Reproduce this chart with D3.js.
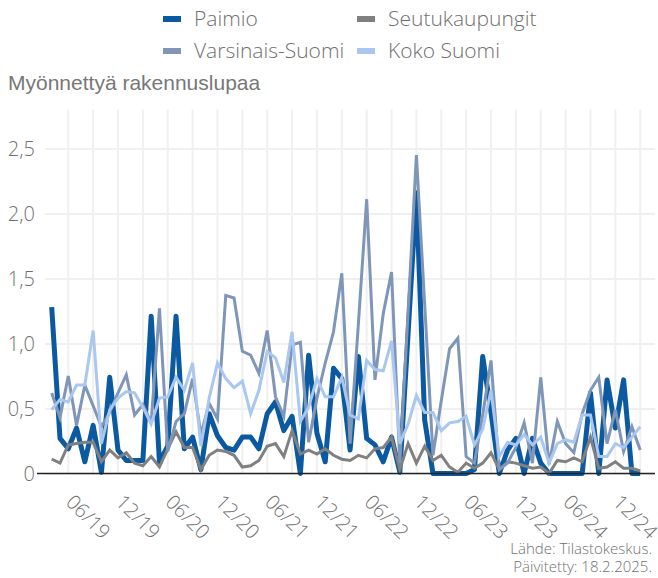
<!DOCTYPE html>
<html>
<head>
<meta charset="utf-8">
<script src="https://cdn.jsdelivr.net/npm/d3@7"></script>
<style>
    body { margin: 0; background: #fff; }
    #chart text { font-family: "Open Sans", sans-serif; font-weight: 300; fill: #707070; }
</style>
</head>
<body>
<svg id="chart" width="658" height="578"></svg>
<script>
// months 01/2019 - 12/2024
const months = [
    "01/19","02/19","03/19","04/19","05/19","06/19","07/19","08/19","09/19","10/19","11/19","12/19",
    "01/20","02/20","03/20","04/20","05/20","06/20","07/20","08/20","09/20","10/20","11/20","12/20",
    "01/21","02/21","03/21","04/21","05/21","06/21","07/21","08/21","09/21","10/21","11/21","12/21",
    "01/22","02/22","03/22","04/22","05/22","06/22","07/22","08/22","09/22","10/22","11/22","12/22",
    "01/23","02/23","03/23","04/23","05/23","06/23","07/23","08/23","09/23","10/23","11/23","12/23",
    "01/24","02/24","03/24","04/24","05/24","06/24","07/24","08/24","09/24","10/24","11/24","12/24"
];

const paimio = [
    1.28,0.27,0.19,0.35,0.09,0.37,0.01,0.74,0.18,0.10,0.10,0.10,
    1.21,0.09,0.21,1.21,0.19,0.28,0.03,0.46,0.29,0.20,0.18,0.28,
    0.28,0.19,0.46,0.55,0.33,0.44,0.00,0.91,0.31,0.09,0.81,0.73,
    0.18,0.90,0.27,0.22,0.09,0.28,0.01,1.08,2.16,0.41,0.00,0.00,
    0.00,0.00,0.00,0.03,0.90,0.47,0.00,0.18,0.27,0.00,0.27,0.08,
    0.00,0.00,0.00,0.00,0.00,0.62,0.00,0.72,0.35,0.72,0.00,0.00
];
const seutukaupungit = [
    0.11,0.08,0.22,0.23,0.24,0.24,0.09,0.18,0.12,0.16,0.08,0.06,
    0.13,0.05,0.19,0.32,0.20,0.20,0.03,0.14,0.18,0.17,0.14,0.05,
    0.06,0.10,0.21,0.23,0.13,0.33,0.15,0.18,0.15,0.19,0.14,0.11,
    0.10,0.14,0.12,0.19,0.20,0.28,0.03,0.23,0.08,0.21,0.10,0.14,
    0.05,0.01,0.08,0.04,0.08,0.16,0.03,0.09,0.08,0.06,0.04,0.05,
    0.00,0.10,0.09,0.12,0.09,0.28,0.04,0.05,0.09,0.04,0.04,0.02
];
const varsinaisSuomi = [
    0.62,0.43,0.75,0.37,0.68,0.52,0.36,0.47,0.62,0.76,0.45,0.53,
    0.39,1.27,0.17,0.40,0.46,0.73,0.30,0.54,0.42,1.37,1.35,0.94,
    0.91,0.77,1.10,0.59,0.44,0.99,1.01,0.24,0.58,0.85,1.09,1.54,
    0.23,1.15,2.11,0.72,1.23,1.55,0.08,1.25,2.45,1.30,0.14,0.56,
    0.96,1.04,0.13,0.08,0.45,0.87,0.03,0.08,0.20,0.39,0.08,0.74,
    0.07,0.40,0.23,0.16,0.46,0.64,0.74,0.23,0.49,0.17,0.36,0.18
];
const kokoSuomi = [
    0.49,0.57,0.55,0.68,0.68,1.10,0.23,0.49,0.58,0.63,0.62,0.51,
    0.38,0.58,0.59,0.74,0.64,0.85,0.21,0.58,0.85,0.73,0.66,0.71,
    0.46,0.64,0.94,0.89,0.70,1.09,0.40,0.51,0.73,0.59,0.59,0.74,
    0.45,0.42,0.87,0.80,0.79,1.02,0.23,0.38,0.60,0.47,0.47,0.33,
    0.39,0.40,0.44,0.22,0.34,0.64,0.13,0.24,0.22,0.30,0.22,0.28,
    0.08,0.23,0.26,0.24,0.45,0.45,0.13,0.13,0.23,0.20,0.28,0.36
];

const seriesNames = ["Paimio", "Seutukaupungit", "Varsinais-Suomi", "Koko Suomi"];
const yTicks = [0, 0.5, 1, 1.5, 2, 2.5];
const xTickLabels = ["06/19","12/19","06/20","12/20","06/21","12/21","06/22","12/22","06/23","12/23","06/24","12/24"];
const gridMonths = ["03/19","06/19","09/19","12/19","03/20","06/20","09/20","12/20","03/21","06/21","09/21","12/21",
    "03/22","06/22","09/22","12/22","03/23","06/23","09/23","12/23","03/24","06/24","09/24","12/24"];

const series = [
    { name: seriesNames[0], values: paimio, color: "#0b5aa1", width: 5 },
    { name: seriesNames[1], values: seutukaupungit, color: "#808080", width: 3 },
    { name: seriesNames[2], values: varsinaisSuomi, color: "#7f96b8", width: 3 },
    { name: seriesNames[3], values: kokoSuomi, color: "#a9c7ef", width: 3 }
];

const svg = d3.select("#chart");
const plotLeft = 45, plotRight = 655, plotTop = 109.5, plotBottom = 473.5;

let x = d3.scalePoint().domain(months).range([51.7, 640.2]);
let y = d3.scaleLinear().domain([0, 2.8]).range([plotBottom, plotTop]);

// vertical grid lines, every third month
svg.append("g")
    .selectAll("line")
    .data(gridMonths)
    .enter()
    .append("line")
    .attr("x1", d => x(d)).attr("x2", d => x(d))
    .attr("y1", plotTop).attr("y2", plotBottom)
    .style("stroke", "#f0f0f0")
    .style("stroke-width", "2px");

// y axis with horizontal grid
let fmt = d3.format(".1f");
let yAxis = svg.append("g")
    .attr("transform", "translate(" + plotLeft + ",0)")
    .call(d3.axisLeft(y)
        .tickValues(yTicks)
        .tickSize(-(plotRight - plotLeft))
        .tickPadding(10)
        .tickFormat(d => d === 0 ? "0" : fmt(d).replace(".", ",")));
yAxis.select(".domain").remove();
yAxis.selectAll("line").style("stroke", "#f0f0f0").style("stroke-width", "2px");
yAxis.selectAll("text").style("font-size", "20px").attr("dy", "0.35em");

// x axis labels, rotated
let xAxis = svg.append("g")
    .attr("transform", "translate(0," + plotBottom + ")")
    .call(d3.axisBottom(x).tickValues(xTickLabels).tickSize(0));
xAxis.select(".domain").remove();
xAxis.selectAll("text")
    .attr("y", 0).attr("dy", 0)
    .attr("transform", "translate(-5,43) rotate(45)")
    .attr("dominant-baseline", "central")
    .style("text-anchor", "middle")
    .style("font-size", "20px");

// the lines
let line = d3.line()
    .x((d, i) => x(months[i]))
    .y(d => y(d));

svg.append("g")
    .selectAll("path")
    .data(series)
    .enter()
    .append("path")
    .attr("d", d => line(d.values))
    .style("fill", "none")
    .style("stroke", d => d.color)
    .style("stroke-width", d => d.width + "px")
    .style("stroke-linejoin", d => d.width > 4 ? "round" : "miter");

// zero line
svg.append("line")
    .attr("x1", 37).attr("x2", plotRight)
    .attr("y1", y(0)).attr("y2", y(0))
    .style("stroke", "#222")
    .style("stroke-width", "1.5px");

// legend, two columns
let legend = svg.append("g")
    .selectAll("g")
    .data(series)
    .enter()
    .append("g")
    .attr("transform", (d, i) => "translate(" + (i % 2 === 0 ? 163 : 357) + "," + (i < 2 ? 19 : 51) + ")");
legend.append("rect")
    .attr("x", 0).attr("y", -3)
    .attr("width", 18).attr("height", 6)
    .style("fill", d => d.color);
legend.append("text")
    .attr("x", 31).attr("dy", "0.35em")
    .style("font-size", "21px")
    .text(d => d.name);

// title
svg.append("text")
    .attr("x", 8).attr("y", 90)
    .style("font-family", "'Liberation Sans', Arial, sans-serif")
    .style("font-weight", "400")
    .style("font-size", "21px")
    .style("fill", "#777")
    .text("Myönnettyä rakennuslupaa");

// source
svg.append("text")
    .attr("x", 652).attr("y", 554)
    .style("text-anchor", "end")
    .style("font-size", "15px")
    .text("Lähde: Tilastokeskus.");
svg.append("text")
    .attr("x", 652).attr("y", 572)
    .style("text-anchor", "end")
    .style("font-size", "15px")
    .text("Päivitetty: 18.2.2025.");
</script>
</body>
</html>
